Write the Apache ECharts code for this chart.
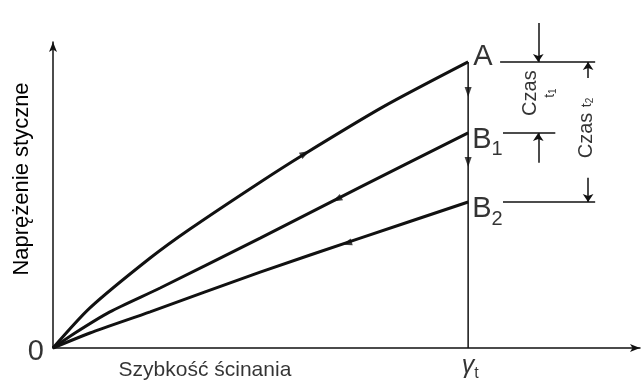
<!DOCTYPE html>
<html>
<head>
<meta charset="utf-8">
<script src="https://cdn.jsdelivr.net/npm/echarts@6/dist/echarts.min.js"></script>
<style>
  html, body { margin: 0; padding: 0; background: #fff; }
  #chart { width: 643px; height: 390px; }
</style>
</head>
<body>
<div id="chart"></div>
<script>
// Flow curves: shear stress vs shear rate (arbitrary units, γt = 10)
const rateA    = [0, 0.89, 2.34, 3.30, 4.99, 6.02, 7.95, 10];
const stressA  = [0, 13.1, 29.4, 38.9, 54.2, 63.1, 78.8, 93.5];
const rateB1   = [0, 0.53, 1.37, 2.58, 4.99, 7.40, 10];
const stressB1 = [0, 4.9, 11.8, 19.6, 35.9, 52.6, 70.3];
const rateB2   = [0, 0.89, 2.34, 4.99, 7.40, 10];
const stressB2 = [0, 4.9, 11.8, 24.8, 35.9, 47.7];

const gammaT = 10;
const curveNames = ['A', 'B1', 'B2'];

// direction arrows on the curves: [rate, stress, rotation in degrees]
const flowArrows = [
  [6.07, 63.6, -60],
  [6.84, 48.6, 117],
  [7.08, 34.2, 107],
  [10, 83.7, 180],
  [10, 60.8, 180]
];

// time-interval dimension lines to the right of the curve ends
const t1Rate = 11.69, t2Rate = 12.89;
const t1TopTail = 106.2, t1BottomTail = 60.5;
const t2TopTail = 88.2, t2BottomTail = 55.6;

const FONT = "'Liberation Sans', Arial, sans-serif";
const INK = '#111';

const zip = (xs, ys) => xs.map((x, i) => [x, ys[i]]);
const endA = stressA[stressA.length - 1];
const endB1 = stressB1[stressB1.length - 1];
const endB2 = stressB2[stressB2.length - 1];

function curve(name, xs, ys) {
  return {
    name, type: 'line', data: zip(xs, ys), smooth: 0.25,
    symbol: 'none', clip: false, silent: true,
    lineStyle: { color: INK, width: 3 }
  };
}
function segment(p1, p2, width) {
  return {
    type: 'line', data: [p1, p2], symbol: 'none', clip: false, silent: true,
    lineStyle: { color: INK, width: width || 1.5 }
  };
}
function textAt(pos, text, opts) {
  return {
    type: 'scatter', data: [pos], symbolSize: 0, clip: false, silent: true,
    label: Object.assign({
      show: true, formatter: text, color: '#000', fontFamily: FONT
    }, opts)
  };
}

const chart = echarts.init(document.getElementById('chart'));
chart.setOption({
  backgroundColor: '#fff',
  animation: false,
  grid: { left: 53, top: 42, width: 587, height: 306 },
  xAxis: {
    type: 'value', min: 0, max: 14.14,
    axisLine: { lineStyle: { color: INK, width: 1.5 }, symbol: ['none', 'arrow'], symbolSize: [6, 10] },
    axisTick: { show: false }, axisLabel: { show: false }, splitLine: { show: false }
  },
  yAxis: {
    type: 'value', min: 0, max: 100,
    name: 'Naprężenie styczne', nameLocation: 'middle', nameRotate: 90, nameGap: 20,
    nameTextStyle: { fontFamily: FONT, fontSize: 22, color: '#000', padding: [0, 0, 0, 32] },
    axisLine: { lineStyle: { color: INK, width: 1.5 }, symbol: ['none', 'arrow'], symbolSize: [6, 10] },
    axisTick: { show: false }, axisLabel: { show: false }, splitLine: { show: false }
  },
  series: [
    curve(curveNames[0], rateA, stressA),
    curve(curveNames[1], rateB1, stressB1),
    curve(curveNames[2], rateB2, stressB2),
    // vertical line at γt
    segment([gammaT, 0], [gammaT, endA]),
    // level lines at the curve ends
    segment([10.77, endA], [13.06, endA]),
    segment([10.84, endB1], [12.10, endB1]),
    segment([10.84, endB2], [13.06, endB2]),
    {
      type: 'scatter', data: flowArrows.map(a => ({ value: [a[0], a[1]], symbolRotate: a[2] })),
      symbol: 'triangle', symbolSize: [7, 10], silent: true,
      itemStyle: { color: INK }
    },
    {
      type: 'lines', coordinateSystem: 'cartesian2d', clip: false, silent: true,
      symbol: ['none', 'arrow'], symbolSize: 8,
      lineStyle: { color: INK, width: 1.5, opacity: 1, curveness: 0 },
      data: [
        { coords: [[t1Rate, t1TopTail], [t1Rate, endA]] },
        { coords: [[t1Rate, t1BottomTail], [t1Rate, endB1]] },
        { coords: [[t2Rate, t2TopTail], [t2Rate, endA]] },
        { coords: [[t2Rate, t2BottomTail], [t2Rate, endB2]] }
      ]
    },
    // curve end labels
    textAt([gammaT, endA], 'A', { position: 'right', distance: 5, offset: [0, -5], fontSize: 29 }),
    textAt([gammaT, endB1], '{b|B}{s|1}', {
      position: 'right', distance: 4, offset: [0, 7],
      rich: { b: { fontSize: 29, fontFamily: FONT, color: '#000' },
              s: { fontSize: 20, fontFamily: FONT, color: '#000', padding: [20, 0, 0, 0] } }
    }),
    textAt([gammaT, endB2], '{b|B}{s|2}', {
      position: 'right', distance: 4, offset: [0, 7],
      rich: { b: { fontSize: 29, fontFamily: FONT, color: '#000' },
              s: { fontSize: 20, fontFamily: FONT, color: '#000', padding: [20, 0, 0, 0] } }
    }),
    // time annotations
    textAt([11.74, 83.3], 'Czas\n{t|t}{n|1}', {
      position: 'inside', rotate: 90, fontSize: 20, lineHeight: 20, align: 'center',
      rich: { t: { fontSize: 14, fontFamily: FONT, color: '#000' },
              n: { fontSize: 10, fontFamily: FONT, color: '#000', padding: [6, 0, 0, 0] } }
    }),
    textAt([12.86, 71.9], 'Czas {t|t}{n|2}', {
      position: 'inside', rotate: 90, fontSize: 20,
      rich: { t: { fontSize: 14, fontFamily: FONT, color: '#000' },
              n: { fontSize: 10, fontFamily: FONT, color: '#000', padding: [6, 0, 0, 0] } }
    }),
    // origin, γt and x-axis title
    textAt([0, 0], '0', { position: 'left', distance: 9, offset: [0, 4], fontSize: 29 }),
    textAt([gammaT, 0], '{g|γ}{s|t}', {
      position: 'bottom', distance: 2, offset: [2, 0],
      rich: { g: { fontSize: 25, fontFamily: FONT, color: '#000', fontStyle: 'italic' },
              s: { fontSize: 16, fontFamily: FONT, color: '#000', padding: [16, 0, 0, 0] } }
    }),
    textAt([3.66, 0], 'Szybkość ścinania', { position: 'bottom', distance: 12, fontSize: 21 })
  ]
});
</script>
</body>
</html>
